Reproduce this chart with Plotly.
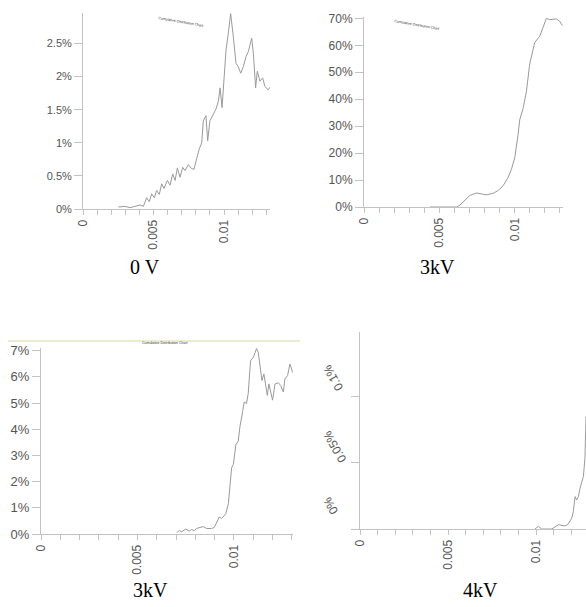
import plotly.graph_objects as go

# ---- data (x: value, y: percent) ----
x_0v = [0.00251, 0.00298, 0.00333, 0.0038, 0.00404, 0.00428, 0.00451, 0.0047, 0.00487, 0.00506,
        0.00522, 0.00541, 0.00558, 0.00574, 0.00598, 0.00617, 0.00636, 0.00653, 0.00669, 0.00688,
        0.00707, 0.00723, 0.00747, 0.0077, 0.00787, 0.00806, 0.00825, 0.00842, 0.00853, 0.00872,
        0.00884, 0.009, 0.00924, 0.00943, 0.0096, 0.00972, 0.00986, 0.01, 0.01014, 0.0103,
        0.01047, 0.01066, 0.01085, 0.01101, 0.01118, 0.01137, 0.01156, 0.01173, 0.01184, 0.01196,
        0.01208, 0.01224, 0.01236, 0.01255, 0.01274, 0.0129, 0.01314, 0.0133]
y_0v = [0.03, 0.04, 0.02, 0.04, 0.06, 0.04, 0.17, 0.11, 0.23, 0.17,
        0.28, 0.22, 0.38, 0.31, 0.43, 0.36, 0.53, 0.43, 0.62, 0.48,
        0.63, 0.58, 0.67, 0.61, 0.6, 0.76, 0.91, 1.0, 1.33, 1.41,
        1.03, 1.33, 1.43, 1.51, 1.63, 1.83, 1.53, 2.05, 2.4, 2.65,
        2.95, 2.6, 2.2, 2.15, 2.05, 2.15, 2.3, 2.38, 2.48, 2.58,
        2.35, 1.83, 2.08, 1.93, 1.98, 1.85, 1.8, 1.85]

x_3kv_a = [0.00437, 0.00614, 0.00636, 0.00669, 0.00702, 0.00746, 0.00779, 0.00812, 0.00857, 0.0089,
           0.00923, 0.00956, 0.00978, 0.01, 0.01022, 0.01033, 0.01055, 0.01077, 0.01099, 0.01132,
           0.01166, 0.01199, 0.0121, 0.01232, 0.01276, 0.01298, 0.01316]
y_3kv_a = [0, 0, 0.7, 2.4, 4.3, 5.2, 4.9, 4.5, 5.1, 6.1,
           7.9, 11, 14, 18.3, 26.8, 32.3, 36.6, 42.7, 53, 61,
           63.4, 68.3, 70, 69.5, 69.8, 68.9, 67.3]

x_3kv_b = [0.00703, 0.00717, 0.00729, 0.00751, 0.00768, 0.0078, 0.00794, 0.00806, 0.00824, 0.00841,
           0.00858, 0.00884, 0.00898, 0.0091, 0.00924, 0.00936, 0.00948, 0.00958, 0.00971, 0.00979,
           0.00988, 0.00997, 0.0101, 0.01022, 0.01031, 0.01045, 0.01053, 0.01065, 0.01074, 0.01086,
           0.011, 0.0111, 0.01117, 0.01126, 0.01135, 0.01145, 0.01155, 0.01166, 0.01173, 0.01181,
           0.0119, 0.012, 0.01213, 0.0123, 0.01242, 0.01256, 0.01264, 0.01278, 0.0129, 0.01304]
y_3kv_b = [0.05, 0.13, 0.09, 0.19, 0.11, 0.17, 0.13, 0.21, 0.25, 0.28,
           0.21, 0.21, 0.25, 0.46, 0.65, 0.59, 0.71, 0.78, 1.16, 1.9,
           2.53, 2.66, 3.41, 3.54, 4.1, 4.67, 5.04, 4.98, 5.36, 6.61,
           6.74, 6.93, 7.08, 6.93, 6.43, 5.86, 6.11, 5.61, 5.29, 5.73,
           5.36, 5.11, 5.73, 5.77, 5.67, 5.42, 5.92, 6.05, 6.49, 6.17]

x_4kv = [0.00994, 0.01013, 0.01032, 0.01089, 0.01108, 0.01127, 0.01155, 0.01174, 0.01189, 0.01203,
         0.01212, 0.01222, 0.01231, 0.01241, 0.0125, 0.0126, 0.01269, 0.01278, 0.01284]
y_4kv = [0, 0.002, 0, 0, 0.0015, 0.0033, 0.0025, 0.0025, 0.005, 0.0082,
         0.0131, 0.0245, 0.022, 0.0245, 0.0308, 0.0346, 0.0396, 0.0535, 0.0851]

captions = ["0 V", "3kV", "3kV", "4kV"]
x_tickvals = [0, 0.005, 0.01]

W, H = 586, 607
LINE = "#9a9a9a"
AX = "#c2c2c2"
TXT = "#555555"

def px(v):
    return v / W

def py(v):
    return 1 - v / H

fig = go.Figure()
series = [(x_0v, y_0v), (x_3kv_a, y_3kv_a), (x_3kv_b, y_3kv_b), (x_4kv, y_4kv)]
for i, (xs, ys) in enumerate(series):
    s = "" if i == 0 else str(i + 1)
    fig.add_trace(go.Scatter(x=xs, y=ys, mode="lines", xaxis="x" + s, yaxis="y" + s,
                             line=dict(color=LINE, width=1), showlegend=False, hoverinfo="skip"))

# panel geometry: (y-axis px, x-axis end px, zero line px, top px, xmax, ymax, dtick, font)
panels = [
    (83, 270, 209, 13, 0.01326, 2.96, 0.5, 11),
    (364, 563, 207, 17, 0.0132, 70.5, 10, 12),
    (41, 293, 534, 348, 0.01306, 7.1, 1, 13),
    (360, 586, 529, 332, 0.01284, 0.149, 0.05, 12),
]

layout = dict(width=W, height=H, margin=dict(l=0, r=0, t=0, b=0, autoexpand=False),
              paper_bgcolor="white", plot_bgcolor="white", showlegend=False)

for i, (x0, x1, y0, y1, xmax, ymax, dt, fs) in enumerate(panels):
    s = "" if i == 0 else str(i + 1)
    xa = dict(domain=[px(x0), min(px(x1), 1.0)], range=[0, xmax], anchor="y" + s,
              automargin=False,
              showgrid=False, zeroline=False, showline=True, linecolor=AX, linewidth=1,
              tickmode="array", tickvals=x_tickvals, ticks="outside", ticklen=5,
              tickcolor=AX, tickangle=-90,
              tickfont=dict(family="Liberation Sans", size=12, color=TXT),
              minor=dict(dtick=0.001, ticks="outside", ticklen=5, tickcolor=AX, tick0=0))
    ya = dict(domain=[py(y0), py(y1)], range=[0, ymax], anchor="x" + s,
              automargin=False,
              showgrid=False, zeroline=False, showline=True, linecolor=AX, linewidth=1,
              dtick=dt, tick0=0, ticks="outside", ticklen=8, tickcolor=AX,
              ticksuffix="%", tickfont=dict(family="Liberation Sans", size=fs, color=TXT))
    if i == 3:
        ya.update(tickangle=-120, ticklabelshift=-28, ticklabelstandoff=24, ticklen=8)
    layout["xaxis" + s] = xa
    layout["yaxis" + s] = ya

fig.update_layout(**layout)

# captions below each panel
cap_pos = [(145, 267), (437, 267), (150, 590), (480, 590)]
for txt, (cx, cy) in zip(captions, cap_pos):
    fig.add_annotation(x=px(cx), y=py(cy), xref="paper", yref="paper", text=txt,
                       showarrow=False, xanchor="center", yanchor="middle",
                       font=dict(family="Liberation Serif", size=20, color="black"))

# tiny (illegible) chart titles
for (cx, cy, ang) in [(156, 14, 10), (442, 17, 10), (140, 343, 0)]:
    fig.add_annotation(x=px(cx), y=py(cy), xref="paper", yref="paper",
                       text="Cumulative Distribution Chart", showarrow=False,
                       textangle=ang, font=dict(family="Liberation Sans", size=3.5, color="#333333"))

# thin frame line on top of the lower-left panel
fig.add_shape(type="line", xref="paper", yref="paper", x0=px(8), x1=px(300),
              y0=py(341), y1=py(341), line=dict(color="#d9d9a6", width=1))

fig.write_html("out.html", config={"displayModeBar": False},
               post_script="document.body.style.margin='0';document.body.style.overflow='hidden';")
